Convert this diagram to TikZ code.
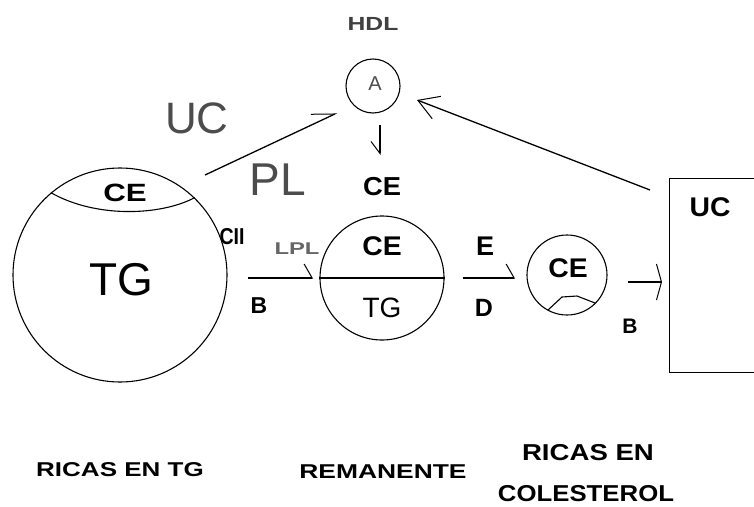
\documentclass[tikz,border=0pt]{standalone}
\usepackage{fontspec}
\setmainfont{Liberation Sans}
\usetikzlibrary{arrows.meta}

\tikzset{
  ring/.style={draw, circle, line width=1.1pt, inner sep=0pt},
  lbl/.style={font=\bfseries\fontsize{24}{24}\selectfont, inner sep=0pt},
  biglbl/.style={font=\fontsize{44}{44}\selectfont, text=black!70, inner sep=0pt},
  foot/.style={font=\bfseries\fontsize{20}{20}\selectfont, inner sep=0pt},
  harp/.style={line width=1.3pt, -{Straight Barb[harpoon, length=8pt, width=28pt, line width=1pt]}},
  harpswap/.style={line width=1.3pt, -{Straight Barb[harpoon, swap, length=12pt, width=18pt, line width=1pt]}},
  wide/.style={line width=1.3pt, -{Straight Barb[length=20pt, width=24pt, line width=1pt]}},
  flat/.style={line width=1.3pt, -{Straight Barb[length=5pt, width=36pt, line width=1pt]}},
  uparrow/.style={line width=1.3pt, -{Straight Barb[harpoon, length=22pt, width=20pt, line width=1pt]}},
}
\newcommand{\wx}[2]{\scalebox{#1}[1]{#2}}

\begin{document}
\begin{tikzpicture}[x=1pt, y=-1pt]
  \useasboundingbox (0,0) rectangle (754,506);

  % HDL particle at the top
  \node[font=\bfseries\fontsize{19}{19}\selectfont, text=black!75, inner sep=0pt] (hdl) at (373,24) {\wx{1.3}{HDL}};
  \node[ring, minimum size=54pt] (a) at (373,86) {};
  \node[font=\fontsize{20}{20}\selectfont, text=black!70, inner sep=0pt] (atxt) at (375,84) {A};
  \coordinate (d1) at (380,125);
  \coordinate (d2) at (380,155);
  \draw[harpswap] (d1) -- (d2);
  \node[lbl, font=\bfseries\fontsize{26}{26}\selectfont] (ce0) at (382,187) {\wx{1.05}{CE}};

  % triglyceride-rich particle
  \node[ring, minimum size=214pt] (big) at (120,275) {};
  \draw[line width=1.1pt] (big.130) .. controls (95,218) and (160,216) .. (big.46);
  \node[lbl, font=\bfseries\fontsize{25}{25}\selectfont] (ce1) at (125,193) {\wx{1.25}{CE}};
  \node[font=\fontsize{46}{46}\selectfont, inner sep=0pt] (tg1) at (121,280) {TG};

  \node[biglbl] (uc) at (197,118) {UC};
  \node[biglbl, font=\fontsize{46}{46}\selectfont] (pl) at (278,180) {PL};
  \coordinate (u1) at (205,175);
  \coordinate (u2) at (337,113);
  \draw[uparrow] (u1) -- (u2);

  \node[lbl, font=\bfseries\fontsize{23}{23}\selectfont] (cii) at (232,237) {\wx{0.85}{CII}};
  \node[font=\bfseries\fontsize{17}{17}\selectfont, text=black!60, inner sep=0pt] (lpl) at (297,249) {\wx{1.4}{LPL}};
  \node[lbl, font=\bfseries\fontsize{23}{23}\selectfont] (b1) at (259,306) {B};

  % remnant particle
  \node[ring, minimum size=124pt] (mid) at (382,278) {};
  \draw[line width=1.3pt] (mid.west) -- (mid.east);
  \node[lbl, font=\bfseries\fontsize{27}{27}\selectfont] (ce2) at (382,246) {\wx{1.05}{CE}};
  \node[lbl, font=\fontsize{28}{28}\selectfont] (tg2) at (382,308) {TG};
  \coordinate (l1) at (248,278);
  \coordinate (l2) at (313,278);
  \draw[harp] (l1) -- (l2);

  \node[lbl, font=\bfseries\fontsize{27}{27}\selectfont] (e) at (485,246) {E};
  \node[lbl, font=\bfseries\fontsize{25}{25}\selectfont] (d) at (484,308) {D};
  \coordinate (m1) at (463,278);
  \coordinate (m2) at (515,278);
  \draw[harp] (m1) -- (m2);

  % cholesterol-rich particle
  \node[ring, minimum size=80pt] (small) at (567,275) {};
  \draw[line width=1.1pt] (548,310) -- (562,297) -- (577,296) -- (595,303);
  \node[lbl, font=\bfseries\fontsize{27}{27}\selectfont] (ce3) at (568,268) {\wx{1.05}{CE}};
  \node[lbl, font=\bfseries\fontsize{21}{21}\selectfont] (b2) at (630,326) {B};
  \coordinate (s1) at (628,282);
  \coordinate (s2) at (662,282);
  \draw[flat] (s1) -- (s2);

  % cell receiving the particles
  \node[draw, line width=1.2pt, minimum width=110pt, minimum height=194pt, anchor=north west, inner sep=0pt] (box) at (669,178) {};
  \node[lbl, font=\bfseries\fontsize{27}{27}\selectfont] (uc2) at (710,207) {\wx{1.05}{UC}};
  \coordinate (r1) at (650,190);
  \coordinate (r2) at (417,100);
  \draw[wide] (r1) -- (r2);

  % captions
  \node[foot] (cap1) at (120,470) {\wx{1.3}{RICAS EN TG}};
  \node[foot] (cap2) at (383,472) {\wx{1.32}{REMANENTE}};
  \node[foot, font=\bfseries\fontsize{23}{23}\selectfont] (cap3) at (588,453) {\wx{1.2}{RICAS EN}};
  \node[foot, font=\bfseries\fontsize{23}{23}\selectfont] (cap4) at (586,494) {\wx{1.12}{COLESTEROL}};
\end{tikzpicture}
\end{document}
